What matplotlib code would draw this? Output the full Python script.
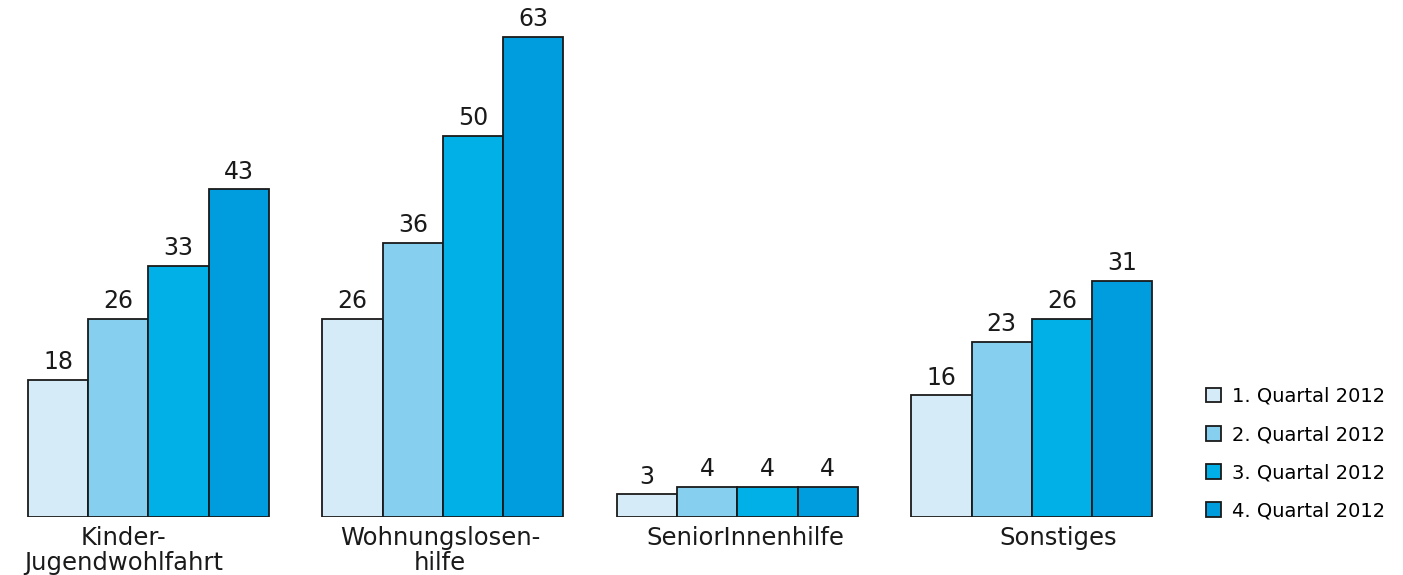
import numpy as np
import matplotlib.pyplot as plt
import matplotlib.transforms as mtransforms
from matplotlib.patches import Patch

categories = ["Kinder-\nJugendwohlfahrt", "Wohnungslosen-\nhilfe", "SeniorInnenhilfe", "Sonstiges"]
quarters = ["1. Quartal 2012", "2. Quartal 2012", "3. Quartal 2012", "4. Quartal 2012"]
q1 = [18, 26, 3, 16]
q2 = [26, 36, 4, 23]
q3 = [33, 50, 4, 26]
q4 = [43, 63, 4, 31]
colors = ["#D6EBF8", "#87CFEF", "#00B0E6", "#009DDE"]

plt.rcParams['font.family'] = ['DejaVu Sans']

fig = plt.figure(figsize=(14.03, 5.75), dpi=100)
# axes spans pixel 0..1180 horizontally, baseline at y=517
ax = fig.add_axes([0.0, 58 / 575, 1180 / 1403, 517 / 575])

x = np.arange(len(categories))
w = 0.2047
series = [q1, q2, q3, q4]
for i, (vals, c, lab) in enumerate(zip(series, colors, quarters)):
    bars = ax.bar(x + (i - 1.5) * w, vals, w, color=c, edgecolor="#1a1a1a",
                  linewidth=1.3, label=lab)
    ax.bar_label(bars, padding=4, fontsize=17, color="#1a1a1a")

ax.set_xlim(-0.504, 3.503)
ax.set_ylim(0, 67.85)
for s in ax.spines.values():
    s.set_visible(False)
ax.set_yticks([])
ax.set_xticks([])

# category names under each group, nudged a little like the original layout
label_shift = [-0.085, -0.01, 0.027, 0.09]
trans = mtransforms.blended_transform_factory(ax.transData, ax.transAxes)
for xi, name, dx in zip(x, categories, label_shift):
    ax.text(xi + dx, -0.018, name, transform=trans, ha="center", va="top",
            fontsize=17.5, color="#1a1a1a", linespacing=1.05, multialignment="center")

handles = [Patch(facecolor=c, edgecolor="#1a1a1a", linewidth=1.3) for c in colors]
fig.legend(handles, quarters, loc="upper left", bbox_to_anchor=(1206 / 1403, 1 - 387 / 575),
           frameon=False, fontsize=14, handlelength=0.77, handleheight=0.77,
           handletextpad=0.55, labelspacing=0.98, borderaxespad=0, borderpad=0)

fig.savefig("out.png", dpi=100)
